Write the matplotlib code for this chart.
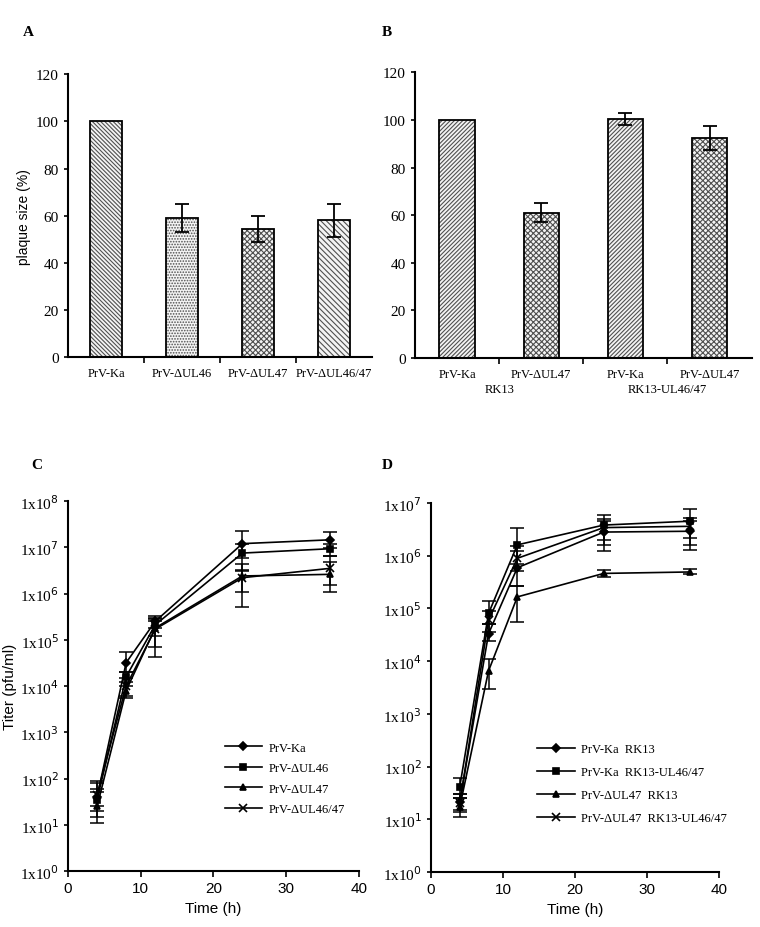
import numpy as np
import matplotlib
matplotlib.use('Agg')
import matplotlib.pyplot as plt

plt.rcParams['hatch.linewidth'] = 0.8
SERIF = 'Liberation Serif'
SANS = 'Liberation Sans'

# Panel A - plaque sizes
a_labels = ['PrV-Ka', 'PrV-\u0394UL46', 'PrV-\u0394UL47', 'PrV-\u0394UL46/47']
a_values = [100, 59, 54.5, 58]
a_err = [0, 6, 5.5, 7]
a_hatch = ['\\\\\\\\\\\\\\\\', '......', 'xxxxxx', '\\\\\\\\\\\\']

# Panel B - plaque sizes on complementing cells
b_labels = ['PrV-Ka', 'PrV-\u0394UL47', 'PrV-Ka', 'PrV-\u0394UL47']
b_groups = ['RK13', 'RK13-UL46/47']
b_values = [100, 61, 100.5, 92.5]
b_err = [0, 4, 2.5, 5]
b_hatch = ['////////', 'xxxxxx', '////////', 'xxxxxx']

# Panel C - growth kinetics
times = [4, 8, 12, 24, 36]
c_names = ['PrV-Ka', 'PrV-\u0394UL46', 'PrV-\u0394UL47', 'PrV-\u0394UL46/47']
c_ka = [40, 3.2e4, 2.5e5, 1.2e7, 1.45e7]
c_ul46 = [35, 1.6e4, 2.1e5, 7.5e6, 9.3e6]
c_ul47 = [25, 8e3, 1.8e5, 2.4e6, 2.6e6]
c_ul4647 = [45, 1e4, 1.7e5, 2.2e6, 3.5e6]
c_lo = [[25, 2e4, 1.8e5, 6e6, 9.5e6], [20, 1e4, 1.2e5, 3e6, 6.5e6],
        [11, 5.5e3, 4.3e4, 1.1e6, 1.1e6], [15, 6e3, 7e4, 5e5, 1.5e6]]
c_hi = [[60, 5.5e4, 3.2e5, 2.2e7, 2.1e7], [80, 2e4, 3e5, 1.2e7, 1.2e7],
        [50, 1.2e4, 2.6e5, 4.3e6, 4.7e6], [90, 1.5e4, 2.8e5, 3.2e6, 6.5e6]]

# Panel D - growth kinetics on RK13 / RK13-UL46/47
d_names = ['PrV-Ka  RK13', 'PrV-Ka  RK13-UL46/47', 'PrV-\u0394UL47  RK13', 'PrV-\u0394UL47  RK13-UL46/47']
d_ka_rk = [21, 3.3e4, 5.9e5, 2.8e6, 2.9e6]
d_ka_ul = [41, 8e4, 1.6e6, 3.8e6, 4.5e6]
d_47_rk = [17, 6.5e3, 1.65e5, 4.6e5, 4.9e5]
d_47_ul = [20, 6e4, 8.9e5, 3.4e6, 3.6e6]
d_lo = [[14, 2.4e4, 2.6e5, 1.2e6, 1.3e6], [25, 5e4, 7e5, 1.6e6, 1.6e6],
        [11, 2.9e3, 5.4e4, 4e5, 4.4e5], [15, 3.5e4, 5e5, 2e6, 2.2e6]]
d_hi = [[30, 5e4, 1.2e6, 4.5e6, 4.5e6], [60, 1.4e5, 3.4e6, 5.8e6, 7.5e6],
        [25, 1.1e4, 2.6e5, 5.3e5, 5.6e5], [30, 9e4, 1.5e6, 5e6, 5.2e6]]

markers = ['D', 's', '^', 'x']
msizes = [4, 5, 5, 6]

fig = plt.figure(figsize=(7.6, 9.28), dpi=100)


def bar_panel(ax, labels, values, err, hatches):
    x = np.arange(len(values))
    ax.bar(x, values, width=0.42, color='#f4f4f4', edgecolor='#505050', hatch=hatches, linewidth=0)
    ax.bar(x, values, width=0.42, fill=False, edgecolor='black', linewidth=1.3)
    for xi, v, e in zip(x, values, err):
        if e > 0:
            ax.errorbar(xi, v, yerr=e, color='black', capsize=5, elinewidth=1.3, capthick=1.3)
    ax.set_xlim(-0.5, 3.5)
    ax.set_ylim(0, 120)
    ax.set_yticks(range(0, 121, 20))
    ax.set_xticks(x)
    ax.set_xticklabels(labels, fontfamily=SERIF, fontsize=9)
    ax.set_xticks([0.5, 1.5, 2.5], minor=True)
    ax.tick_params(axis='x', which='major', length=0, pad=7)
    ax.tick_params(axis='x', which='minor', length=4, width=1.2, direction='out')
    ax.tick_params(axis='y', length=3, width=1.2, labelsize=11)
    for t in ax.get_yticklabels():
        t.set_fontfamily(SERIF)
    for s in ['top', 'right']:
        ax.spines[s].set_visible(False)
    for s in ['left', 'bottom']:
        ax.spines[s].set_linewidth(1.5)


axA = fig.add_axes([0.0895, 0.614, 0.40, 0.305])
bar_panel(axA, a_labels, a_values, a_err, a_hatch)
axA.set_ylabel('plaque size (%)', fontfamily=SANS, fontsize=10, labelpad=4)

axB = fig.add_axes([0.546, 0.613, 0.443, 0.308])
bar_panel(axB, b_labels, b_values, b_err, b_hatch)
axB.text(0.5, -12.8, b_groups[0], ha='center', va='center', fontfamily=SERIF, fontsize=9)
axB.text(2.5, -12.8, b_groups[1], ha='center', va='center', fontfamily=SERIF, fontsize=9)


def growth_panel(ax, names, series, lo, hi, ymax, leg_anchor, spacing):
    handles = []
    for i, ys in enumerate(series):
        ys = np.array(ys)
        yerr = [ys - np.array(lo[i]), np.array(hi[i]) - ys]
        ax.errorbar(times, ys, yerr=yerr, fmt='none', ecolor='black', capsize=5, elinewidth=1.1, capthick=1.1)
        h, = ax.plot(times, ys, color='black', lw=1.2, marker=markers[i], ms=msizes[i],
                     mew=1.2, mfc='black', label=names[i])
        handles.append(h)
    ax.set_yscale('log')
    ax.set_ylim(1, ymax)
    ax.set_xlim(0, 40)
    ax.set_xticks([0, 10, 20, 30, 40])
    exps = range(0, int(round(np.log10(ymax))) + 1)
    ax.set_yticks([10.0 ** e for e in exps])
    ax.set_yticklabels(['1x10$^{%d}$' % e for e in exps], fontfamily=SERIF, fontsize=11)
    ax.minorticks_off()
    ax.tick_params(axis='y', length=3, width=1.2)
    ax.tick_params(axis='x', length=4, width=1.2, labelsize=11)
    for t in ax.get_xticklabels():
        t.set_fontfamily(SANS)
    ax.set_xlabel('Time (h)', fontfamily=SANS, fontsize=11)
    for s in ['top', 'right']:
        ax.spines[s].set_visible(False)
    for s in ['left', 'bottom']:
        ax.spines[s].set_linewidth(1.5)
    ax.legend(handles=handles, loc='upper left', bbox_to_anchor=leg_anchor, frameon=False,
              prop={'family': SERIF, 'size': 9}, handlelength=3.0, labelspacing=spacing,
              handletextpad=0.5)


axC = fig.add_axes([0.0895, 0.0603, 0.3825, 0.3987])
growth_panel(axC, c_names, [c_ka, c_ul46, c_ul47, c_ul4647], c_lo, c_hi, 1e8, (0.5, 0.38), 0.68)
axC.set_ylabel('Titer (pfu/ml)', fontfamily=SANS, fontsize=11, labelpad=2)

axD = fig.add_axes([0.567, 0.0593, 0.379, 0.3977])
growth_panel(axD, d_names, [d_ka_rk, d_ka_ul, d_47_rk, d_47_ul], d_lo, d_hi, 1e7, (0.33, 0.38), 0.88)

for lbl, (fx, fy) in zip('ABCD', [(0.037, 0.965), (0.509, 0.965), (0.049, 0.498), (0.509, 0.498)]):
    fig.text(fx, fy, lbl, fontfamily=SERIF, fontweight='bold', fontsize=11, ha='center', va='center')

fig.savefig('out.png', dpi=100)
